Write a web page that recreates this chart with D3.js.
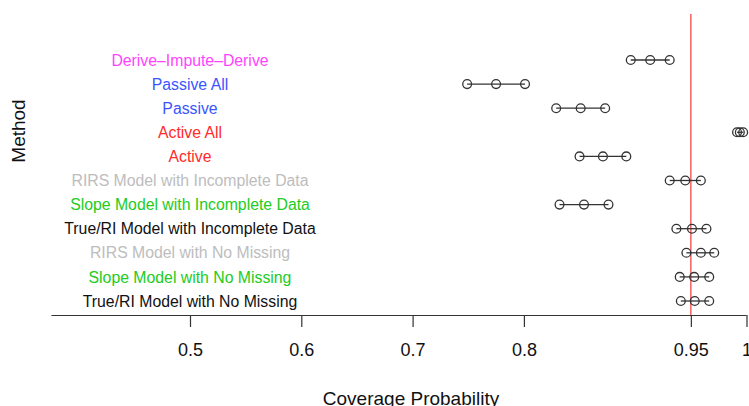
<!DOCTYPE html>
<html><head><meta charset="utf-8">
<script src="https://cdn.jsdelivr.net/npm/d3@7"></script>
<style>body{margin:0;background:#fff;} text{font-family:"Liberation Sans",Arial,Helvetica,sans-serif;}</style>
</head><body>
<svg id="c" width="749" height="406"></svg>
<script>
const methods = ["Derive\u2013Impute\u2013Derive","Passive All","Passive","Active All","Active",
  "RIRS Model with Incomplete Data","Slope Model with Incomplete Data","True/RI Model with Incomplete Data",
  "RIRS Model with No Missing","Slope Model with No Missing","True/RI Model with No Missing"];
const colors = ["#ff44ff","#3a55ff","#3a55ff","#ff2a2a","#ff2a2a","#bdbdbd","#22cc22","#111111","#bdbdbd","#22cc22","#111111"];
const lower = [0.896,0.749,0.829,0.9915,0.850,0.931,0.832,0.937,0.946,0.940,0.941];
const est   = [0.9135,0.775,0.851,0.994,0.871,0.945,0.854,0.951,0.959,0.953,0.9535];
const upper = [0.931,0.801,0.873,0.997,0.892,0.959,0.876,0.964,0.971,0.9665,0.9665];
const tickVals = [0.5,0.6,0.7,0.8,0.95,1];
const tickLabels = ["0.5","0.6","0.7","0.8","0.95","1"];
const reference = 0.95;

const svg = d3.select("#c");
const x = d3.scaleLinear().domain([0.5,1]).range([190,746.5]);
const y = d3.scalePoint().domain(methods).range([60,301]);
const axisY = 315;

// reference line
svg.append("line").attr("x1",x(reference)).attr("x2",x(reference)).attr("y1",14).attr("y2",axisY)
  .attr("stroke","#f25555").attr("stroke-width",1.4);

// axis
const ax = svg.append("g").attr("transform",`translate(0,${axisY})`)
  .call(d3.axisBottom(x).tickValues(tickVals).tickFormat((d,i)=>tickLabels[i]).tickSize(12).tickPadding(16).tickSizeOuter(0));
ax.select(".domain").remove();
ax.append("line").attr("x1",x(0.3755)).attr("x2",x(1)).attr("y1",0.5).attr("y2",0.5).attr("stroke","#333").attr("stroke-width",1.2);
ax.selectAll(".tick line").attr("stroke","#333").attr("stroke-width",1.2);
ax.selectAll(".tick text").attr("font-size",18).attr("fill","#111").attr("font-family","Liberation Sans, Arial, sans-serif");

// labels
svg.append("g").selectAll("text").data(methods).join("text")
  .attr("x",190).attr("y",d=>y(d)).attr("dy","0.36em").attr("text-anchor","middle")
  .attr("font-size",15.8).attr("fill",(d,i)=>colors[i]).text(d=>d);

// intervals
const g = svg.append("g");
methods.forEach((m,i)=>{
  g.append("line").attr("x1",x(lower[i])).attr("x2",x(upper[i])).attr("y1",y(m)).attr("y2",y(m))
    .attr("stroke","#333").attr("stroke-width",1.3);
  [lower[i],est[i],upper[i]].forEach(v=>{
    g.append("circle").attr("cx",x(v)).attr("cy",y(m)).attr("r",4.4)
      .attr("fill","none").attr("stroke","#333").attr("stroke-width",1.3);
  });
});

// titles
svg.append("text").attr("x",411).attr("y",398).attr("dy","0.36em").attr("text-anchor","middle")
  .attr("font-size",19).attr("fill","#111").text("Coverage Probability");
svg.append("text").attr("transform","translate(18,131) rotate(-90)").attr("dy","0.36em").attr("text-anchor","middle")
  .attr("font-size",19).attr("fill","#111").text("Method");
</script>
</body></html>
